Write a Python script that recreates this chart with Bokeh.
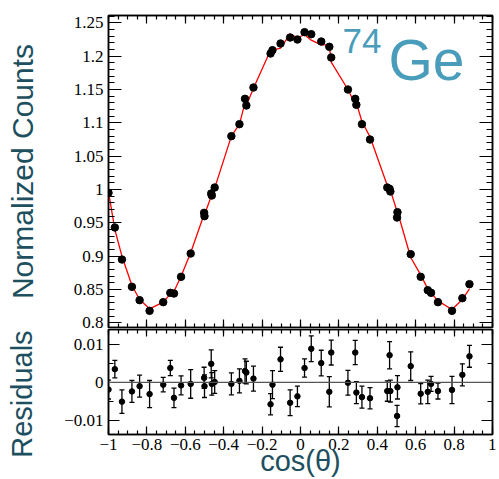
import numpy as np
from bokeh.plotting import figure
from bokeh.layouts import column
from bokeh.models import (Range1d, FixedTicker, LinearAxis, Label, Span, Whisker,
                          TeeHead, ColumnDataSource)
from bokeh.embed import file_html
from bokeh.resources import INLINE

# ---------------- data ----------------
cos_theta = [-1.000, -0.967, -0.930, -0.878, -0.838, -0.786, -0.715, -0.678, -0.659, -0.622,
             -0.572, -0.502, -0.500, -0.465, -0.462, -0.447, -0.360, -0.318, -0.289, -0.282,
             -0.245, -0.156, -0.146, -0.104, -0.054, -0.016, 0.021, 0.056, 0.108, 0.150,
             0.160, 0.247, 0.285, 0.291, 0.320, 0.362, 0.452, 0.464, 0.468, 0.503,
             0.505, 0.574, 0.626, 0.663, 0.680, 0.716, 0.789, 0.843, 0.880]
norm_counts = [0.995, 0.943, 0.895, 0.854, 0.834, 0.818, 0.831, 0.845, 0.844, 0.869,
               0.904, 0.965, 0.960, 0.994, 0.991, 1.003, 1.080, 1.098, 1.136, 1.126,
               1.153, 1.204, 1.209, 1.219, 1.228, 1.225, 1.236, 1.233, 1.222, 1.214,
               1.198, 1.150, 1.136, 1.127, 1.098, 1.075, 1.003, 1.001, 0.997, 0.958,
               0.966, 0.903, 0.869, 0.849, 0.845, 0.831, 0.818, 0.837, 0.858]
fit_counts = [0.997, 0.940, 0.900, 0.856, 0.835, 0.821, 0.831, 0.843, 0.847, 0.870,
              0.905, 0.963, 0.962, 0.990, 0.991, 1.002, 1.080, 1.098, 1.130, 1.126,
              1.152, 1.209, 1.209, 1.212, 1.233, 1.228, 1.232, 1.224, 1.217, 1.217,
              1.191, 1.150, 1.128, 1.130, 1.102, 1.079, 1.006, 0.994, 0.999, 0.967,
              0.967, 0.898, 0.872, 0.851, 0.845, 0.833, 0.820, 0.835, 0.851]
residuals = [-0.0019, 0.0035, -0.0051, -0.0024, -0.0010, -0.0031, -0.0006, 0.0038, -0.0041, -0.0008,
             -0.0004, 0.0012, -0.0010, 0.0049, -0.0004, 0.0001, -0.0004, 0.0004, 0.0030, 0.0026,
             0.0010, -0.0058, -0.0006, 0.0061, -0.0054, -0.0037, 0.0038, 0.0089, 0.0051, -0.0025,
             0.0079, -0.0001, 0.0079, -0.0027, -0.0039, -0.0042, -0.0023, 0.0072, -0.0023, -0.0089,
             -0.0013, 0.0043, -0.0030, -0.0025, -0.0004, -0.0023, -0.0020, 0.0020, 0.0069]
resid_err = [0.0025, 0.0023, 0.0031, 0.0029, 0.0029, 0.0036, 0.0019, 0.0020, 0.0026, 0.0025,
             0.0038, 0.0028, 0.0030, 0.0037, 0.0030, 0.0030, 0.0029, 0.0032, 0.0032, 0.0030,
             0.0033, 0.0028, 0.0037, 0.0032, 0.0034, 0.0027, 0.0024, 0.0034, 0.0034, 0.0040,
             0.0033, 0.0033, 0.0032, 0.0029, 0.0029, 0.0028, 0.0027, 0.0036, 0.0029, 0.0028,
             0.0031, 0.0038, 0.0027, 0.0031, 0.0020, 0.0021, 0.0036, 0.0029, 0.0029]

x_ticks = [-1.0, -0.8, -0.6, -0.4, -0.2, 0.0, 0.2, 0.4, 0.6, 0.8, 1.0]
x_tick_labels = ["\u22121", "\u22120.8", "\u22120.6", "\u22120.4", "\u22120.2", "0",
                 "0.2", "0.4", "0.6", "0.8", "1"]
top_y_ticks = [0.8, 0.85, 0.9, 0.95, 1.0, 1.05, 1.1, 1.15, 1.2, 1.25]
top_y_labels = ["0.8", "0.85", "0.9", "0.95", "1", "1.05", "1.1", "1.15", "1.2", "1.25"]
res_y_ticks = [-0.01, 0.0, 0.01]
res_y_labels = ["\u22120.01", "0", "0.01"]

# ---------------- style ----------------
TICK_FONT = "Liberation Serif"
TICK_SIZE = "17px"
LABEL_FONT = "Liberation Sans"
LABEL_COLOR = "#1d4f5f"
GE_COLOR = "#4a9dba"

x_minor = [round(v, 3) for v in np.arange(-1.0, 1.0001, 0.05)]
top_minor = [round(v, 3) for v in np.arange(0.79, 1.2601, 0.01)]
res_minor = [-0.01, -0.005, 0.0, 0.005, 0.01]

x_range = Range1d(-1.0, 1.0)


def style_axis(ax, major_in, minor_in, labels=None, show_labels=True):
    ax.axis_line_color = "black"
    ax.axis_line_width = 1.5
    ax.major_tick_in = major_in
    ax.major_tick_out = 0
    ax.minor_tick_in = minor_in
    ax.minor_tick_out = 0
    ax.major_tick_line_color = "black"
    ax.major_tick_line_width = 1.2
    ax.minor_tick_line_color = "black"
    ax.minor_tick_line_width = 1.2
    if show_labels:
        ax.major_label_text_font = TICK_FONT
        ax.major_label_text_font_size = TICK_SIZE
        ax.major_label_text_color = "black"
        ax.major_label_standoff = 5
        if labels:
            ax.major_label_overrides = labels
    else:
        ax.major_label_text_font_size = "0px"
        ax.major_label_text_alpha = 0
        ax.major_label_text_color = None
        ax.major_label_standoff = 0


def style_title(ax, text, standoff, size="29px"):
    ax.axis_label = text
    ax.axis_label_text_font = LABEL_FONT
    ax.axis_label_text_font_size = size
    ax.axis_label_text_font_style = "normal"
    ax.axis_label_text_color = LABEL_COLOR
    ax.axis_label_standoff = standoff


def make_fig(height, y_range, top, bottom):
    f = figure(width=496, height=height, x_range=x_range, y_range=y_range,
               output_backend="svg", toolbar_location=None,
               min_border_left=108, min_border_right=4,
               min_border_top=top, min_border_bottom=bottom)
    f.grid.visible = False
    f.outline_line_color = "black"
    f.outline_line_width = 1.5
    f.background_fill_color = "white"
    f.border_fill_color = "white"
    return f


# ---------------- top panel ----------------
p1 = make_fig(329, Range1d(0.793, 1.261), 15, 2)
xt = FixedTicker(ticks=x_ticks, minor_ticks=x_minor)
yt1 = FixedTicker(ticks=top_y_ticks, minor_ticks=top_minor)
p1.xaxis.ticker = xt
p1.yaxis.ticker = yt1
style_axis(p1.xaxis[0], 8, 4, show_labels=False)
style_axis(p1.yaxis[0], 13, 6, labels=dict(zip(top_y_ticks, top_y_labels)))
style_title(p1.yaxis[0], "Normalized Counts", 32, "30px")
ax_top = LinearAxis(ticker=xt)
style_axis(ax_top, 8, 4, show_labels=False)
p1.add_layout(ax_top, "above")
ax_right = LinearAxis(ticker=yt1)
style_axis(ax_right, 13, 6, show_labels=False)
p1.add_layout(ax_right, "right")

p1.line(cos_theta, fit_counts, line_color="red", line_width=1.3)
p1.scatter(cos_theta, norm_counts, size=7.5, fill_color="black", line_color="black")

p1.add_layout(Label(x=234, y=287, x_units="screen", y_units="screen", text="74",
                    text_align="left", text_baseline="alphabetic", text_font=LABEL_FONT,
                    text_font_size="35px", text_color=GE_COLOR))
p1.add_layout(Label(x=280, y=268, x_units="screen", y_units="screen", text="Ge",
                    text_align="left", text_baseline="alphabetic", text_font=LABEL_FONT,
                    text_font_size="57px", text_color=GE_COLOR))

# ---------------- residual panel ----------------
p2 = make_fig(150, Range1d(-0.0138, 0.014), 0, 45)
yt2 = FixedTicker(ticks=res_y_ticks, minor_ticks=res_minor)
p2.xaxis.ticker = xt
p2.yaxis.ticker = yt2
style_axis(p2.xaxis[0], 8, 4, labels=dict(zip(x_ticks, x_tick_labels)))
p2.xaxis[0].major_label_standoff = 4
style_title(p2.xaxis[0], "cos(\u03b8)", -8)
style_axis(p2.yaxis[0], 11, 5, labels=dict(zip(res_y_ticks, res_y_labels)))
# trailing no-break spaces shift the centred title toward the bottom, as in the original
style_title(p2.yaxis[0], "Residuals\u00a0\u00a0\u00a0", 23)
ax_top2 = LinearAxis(ticker=xt)
style_axis(ax_top2, 7, 4, show_labels=False)
p2.add_layout(ax_top2, "above")
ax_right2 = LinearAxis(ticker=yt2)
style_axis(ax_right2, 11, 5, show_labels=False)
p2.add_layout(ax_right2, "right")

p2.add_layout(Span(location=0, dimension="width", line_color="#555555", line_width=1.2))

res_arr = np.array(residuals)
err_arr = np.array(resid_err)
src = ColumnDataSource(dict(x=cos_theta, y=residuals,
                            upper=list(res_arr + err_arr), lower=list(res_arr - err_arr)))
p2.add_layout(Whisker(source=src, base="x", upper="upper", lower="lower",
                      line_color="black", line_width=1.3,
                      upper_head=TeeHead(size=5, line_color="black", line_width=1.3),
                      lower_head=TeeHead(size=5, line_color="black", line_width=1.3)))
p2.scatter("x", "y", source=src, size=5.5, fill_color="black", line_color="black")

layout = column(p1, p2, spacing=0)
open("out.html", "w").write(file_html(layout, INLINE))
